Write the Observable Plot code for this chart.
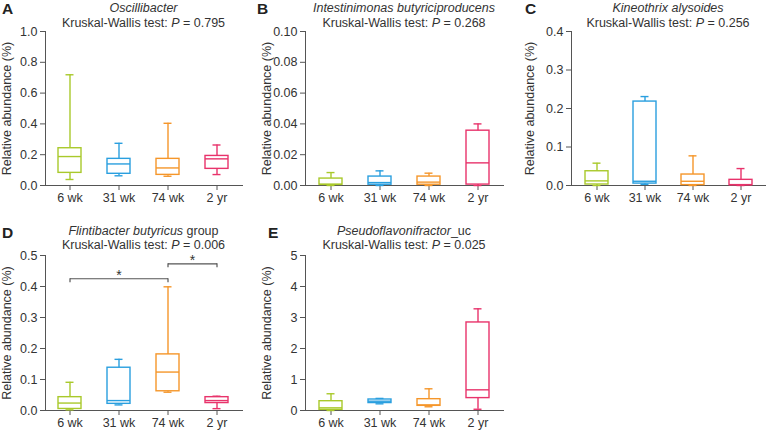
<!DOCTYPE html>
<html>
<head>
<meta charset="utf-8">
<script src="https://cdn.jsdelivr.net/npm/d3@7"></script>
<script src="https://cdn.jsdelivr.net/npm/@observablehq/plot@0.6"></script>
<style>
  html, body { margin: 0; padding: 0; background: #fff; }
  #wrap { position: relative; width: 768px; height: 431px; overflow: hidden; background: #fff; }
  #wrap svg { position: absolute; overflow: visible; }
</style>
</head>
<body>
<div id="wrap"></div>
<script>
const groups = ["6 wk", "31 wk", "74 wk", "2 yr"];
const colors = ["#a9c92b", "#2a9fdf", "#f5962a", "#e8336b"];
const yLabel = "Relative abundance (%)";

// Panel A — Oscillibacter
const A_min = [0.039, 0.063, 0.060, 0.071];
const A_q1  = [0.082, 0.076, 0.069, 0.108];
const A_med = [0.188, 0.140, 0.114, 0.173];
const A_q3  = [0.242, 0.173, 0.173, 0.192];
const A_max = [0.719, 0.274, 0.404, 0.263];
const A_ticks = [0, 0.2, 0.4, 0.6, 0.8, 1.0];

// Panel B — Intestinimonas butyriciproducens
const B_min = [0.0, 0.0, 0.0, 0.0];
const B_q1  = [0.0005, 0.0005, 0.0005, 0.0006];
const B_med = [0.0007, 0.0019, 0.0022, 0.0147];
const B_q3  = [0.0045, 0.0058, 0.0058, 0.0356];
const B_max = [0.0084, 0.0095, 0.0080, 0.0400];
const B_ticks = [0, 0.02, 0.04, 0.06, 0.08, 0.10];

// Panel C — Kineothrix alysoides
const C_min = [0.0, 0.003, 0.0, 0.0];
const C_q1  = [0.0026, 0.005, 0.001, 0.001];
const C_med = [0.012, 0.011, 0.011, 0.002];
const C_q3  = [0.037, 0.218, 0.0285, 0.0147];
const C_max = [0.058, 0.231, 0.077, 0.044];
const C_ticks = [0, 0.1, 0.2, 0.3, 0.4];

// Panel D — Flintibacter butyricus group
const D_min = [0.002, 0.018, 0.059, 0.006];
const D_q1  = [0.005, 0.0215, 0.062, 0.024];
const D_med = [0.024, 0.032, 0.124, 0.032];
const D_q3  = [0.043, 0.138, 0.181, 0.043];
const D_max = [0.091, 0.165, 0.399, 0.046];
const D_ticks = [0, 0.1, 0.2, 0.3, 0.4, 0.5];
const D_bracketFrom = ["6 wk", "74 wk"];
const D_bracketTo   = ["74 wk", "2 yr"];
const D_bracketY    = [0.425, 0.473];
const D_bracketMark = ["*", "*"];

// Panel E — Pseudoflavonifractor_uc
const E_min = [0.0, 0.215, 0.12, 0.04];
const E_q1  = [0.02, 0.24, 0.15, 0.40];
const E_med = [0.086, 0.30, 0.18, 0.667];
const E_q3  = [0.30, 0.355, 0.365, 2.84];
const E_max = [0.54, 0.39, 0.70, 3.28];
const E_ticks = [0, 1, 2, 3, 4, 5];

function rows(mn, q1, md, q3, mx) {
  return groups.map((g, i) => ({g, min: mn[i], q1: q1[i], med: md[i], q3: q3[i], max: mx[i]}));
}

const wrap = document.getElementById("wrap");
const TEXT = "#333";
const AXIS = "#555";
const PAD_INNER = 0.53, PAD_OUTER = 0.27;

function panel(o) {
  const data = rows(...o.stats);
  const brackets = o.brackets || [];
  const step = (o.width - o.marginLeft - o.marginRight) / (groups.length - PAD_INNER + 2 * PAD_OUTER);
  const marks = [
    Plot.frame({anchor: "left", stroke: AXIS, strokeWidth: 1}),
    Plot.frame({anchor: "bottom", stroke: AXIS, strokeWidth: 1}),
    Plot.axisX({tickSize: 5, tickPadding: 3, label: null, stroke: AXIS, color: TEXT, fontSize: 12.5}),
    Plot.axisY({ticks: o.ticks, tickFormat: o.fmt, tickSize: 5, tickPadding: 3,
      label: yLabel, labelAnchor: "center", labelArrow: "none", labelOffset: o.labelOffset,
      stroke: AXIS, color: TEXT, fontSize: 12.5}),
    Plot.ruleX(data, {x: "g", y1: "q3", y2: "max", stroke: "g", strokeWidth: 1.4}),
    Plot.ruleX(data, {x: "g", y1: "min", y2: "q1", stroke: "g", strokeWidth: 1.4}),
    Plot.tickY(data, {x: "g", y: "max", stroke: "g", strokeWidth: 1.4, insetLeft: 7.5, insetRight: 7.5}),
    Plot.tickY(data, {x: "g", y: "min", stroke: "g", strokeWidth: 1.4, insetLeft: 7.5, insetRight: 7.5}),
    Plot.barY(data, {x: "g", y1: "q1", y2: "q3", fill: "none", stroke: "g", strokeWidth: 1.4}),
    Plot.tickY(data, {x: "g", y: "med", stroke: "g", strokeWidth: 1.4})
  ];
  if (brackets.length) {
    marks.push(
      Plot.link(brackets, {x1: "from", x2: "to", y1: "y", y2: "y", stroke: AXIS, strokeWidth: 1.2}),
      Plot.ruleX(brackets, {x: "from", y1: "y", y2: "y", insetBottom: -4, stroke: AXIS, strokeWidth: 1.2}),
      Plot.ruleX(brackets, {x: "to", y1: "y", y2: "y", insetBottom: -4, stroke: AXIS, strokeWidth: 1.2}),
      Plot.text(brackets.filter(d => !d.half), {x: "mid", y: "y", text: "mark", lineAnchor: "bottom", dy: 1, fill: TEXT, fontSize: 14}),
      Plot.text(brackets.filter(d => d.half), {x: "mid", y: "y", text: "mark", lineAnchor: "bottom", dy: 1, dx: step / 2, fill: TEXT, fontSize: 14})
    );
  }
  const svg = Plot.plot({
    width: o.width, height: o.height,
    marginLeft: o.marginLeft, marginRight: o.marginRight,
    marginTop: o.marginTop, marginBottom: o.marginBottom,
    style: {fontFamily: "'Liberation Sans', Arial, sans-serif", fontSize: "12.5px", color: TEXT, background: "transparent"},
    x: {type: "band", domain: groups, paddingInner: PAD_INNER, paddingOuter: PAD_OUTER},
    y: {domain: [0, o.yMax], label: yLabel},
    color: {domain: groups, range: colors},
    marks
  });
  svg.style.left = o.left + "px";
  svg.style.top = o.top + "px";
  const s = d3.select(svg);
  const cx = o.marginLeft + (o.width - o.marginLeft - o.marginRight) / 2;
  s.append("text").attr("x", o.letterX).attr("y", o.letterY).attr("text-anchor", "start")
    .attr("font-weight", "bold").attr("font-size", 15.5).attr("fill", "#222").text(o.letter);
  const t1 = s.append("text").attr("x", cx).attr("y", o.t1y).attr("text-anchor", "middle")
    .attr("font-size", 12.5).attr("fill", TEXT);
  t1.append("tspan").attr("font-style", "italic").text(o.italic);
  if (o.rest) t1.append("tspan").text(o.rest);
  const t2 = s.append("text").attr("x", cx).attr("y", o.t2y).attr("text-anchor", "middle")
    .attr("font-size", 12.5).attr("fill", TEXT);
  t2.append("tspan").text("Kruskal-Wallis test: ");
  t2.append("tspan").attr("font-style", "italic").text("P");
  t2.append("tspan").text(" = " + o.p);
  wrap.appendChild(svg);
}

const topRow = {top: 0, height: 210, marginTop: 31, marginBottom: 25, letterY: 14, t1y: 12, t2y: 26.5};
const botRow = {top: 224, height: 207, marginTop: 31, marginBottom: 21, letterY: 13.5, t1y: 10.5, t2y: 24.5};

panel({...topRow, letter: "A", italic: "Oscillibacter", p: "0.795",
  left: 0, width: 250, marginLeft: 45, marginRight: 8, letterX: 2, labelOffset: 43,
  yMax: 1.0, ticks: A_ticks, fmt: d3.format(".1f"),
  stats: [A_min, A_q1, A_med, A_q3, A_max]});

panel({...topRow, letter: "B", italic: "Intestinimonas butyriciproducens", p: "0.268",
  left: 256, width: 252, marginLeft: 49, marginRight: 5, letterX: 1, labelOffset: 43,
  yMax: 0.10, ticks: B_ticks, fmt: d3.format(".2f"),
  stats: [B_min, B_q1, B_med, B_q3, B_max]});

panel({...topRow, letter: "C", italic: "Kineothrix alysoides", p: "0.256",
  left: 518, width: 250, marginLeft: 53, marginRight: 3, letterX: 7, labelOffset: 46,
  yMax: 0.4, ticks: C_ticks, fmt: d3.format(".1f"),
  stats: [C_min, C_q1, C_med, C_q3, C_max]});

const D_brackets = D_bracketFrom.map((f, i) => {
  const a = groups.indexOf(f), b = groups.indexOf(D_bracketTo[i]);
  return {from: f, to: D_bracketTo[i], y: D_bracketY[i], mark: D_bracketMark[i],
          mid: groups[Math.floor((a + b) / 2)], half: (a + b) % 2 === 1};
});

panel({...botRow, letter: "D", italic: "Flintibacter butyricus", rest: " group", p: "0.006",
  left: 0, width: 250, marginLeft: 45, marginRight: 8, letterX: 2, labelOffset: 43,
  yMax: 0.5, ticks: D_ticks, fmt: d3.format(".1f"),
  stats: [D_min, D_q1, D_med, D_q3, D_max], brackets: D_brackets});

panel({...botRow, letter: "E", italic: "Pseudoflavonifractor", rest: "_uc", p: "0.025",
  left: 256, width: 252, marginLeft: 49, marginRight: 5, letterX: 12, labelOffset: 43,
  yMax: 5, ticks: E_ticks, fmt: d3.format("d"),
  stats: [E_min, E_q1, E_med, E_q3, E_max]});
</script>
</body>
</html>
